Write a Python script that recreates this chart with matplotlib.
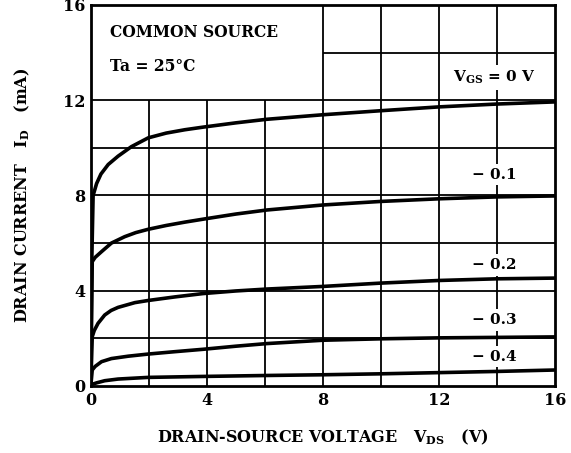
import matplotlib
matplotlib.use("Agg")
import matplotlib.pyplot as plt
import numpy as np

plt.rcParams["font.family"] = ["DejaVu Serif"]
plt.rcParams["font.weight"] = "bold"
plt.rcParams["mathtext.fontset"] = "dejavuserif"

# curves: VDS (V) vs ID (mA)
vds_0 = [0.0, 0.03, 0.08, 0.2, 0.35, 0.6, 0.94, 1.4, 1.98, 2.6, 3.24, 3.87, 5.0, 6.07, 8.0, 10.0, 12.0, 14.0, 16.0]
id_0 = [0.0, 5.0, 8.0, 8.5, 8.9, 9.3, 9.65, 10.05, 10.42, 10.62, 10.76, 10.87, 11.05, 11.2, 11.39, 11.56, 11.72, 11.84, 11.93]

vds_1 = [0.0, 0.05, 0.15, 0.37, 0.71, 1.17, 1.55, 1.98, 2.6, 3.24, 4.0, 5.0, 6.07, 8.0, 10.0, 12.0, 14.0, 16.0]
id_1 = [0.0, 5.22, 5.4, 5.64, 6.0, 6.27, 6.44, 6.58, 6.74, 6.88, 7.03, 7.22, 7.39, 7.6, 7.75, 7.86, 7.94, 7.98]

vds_2 = [0.0, 0.05, 0.12, 0.25, 0.48, 0.7, 0.94, 1.52, 1.98, 2.9, 3.87, 5.0, 6.07, 8.0, 10.0, 12.0, 14.0, 16.0]
id_2 = [0.0, 2.07, 2.33, 2.63, 2.98, 3.17, 3.3, 3.5, 3.59, 3.74, 3.88, 3.99, 4.07, 4.18, 4.32, 4.43, 4.5, 4.53]

vds_3 = [0.0, 0.05, 0.15, 0.37, 0.71, 1.29, 1.98, 2.9, 3.87, 5.0, 6.07, 8.0, 10.0, 12.0, 14.0, 16.0]
id_3 = [0.0, 0.67, 0.82, 1.02, 1.15, 1.25, 1.34, 1.44, 1.54, 1.67, 1.78, 1.92, 1.98, 2.02, 2.04, 2.06]

vds_4 = [0.0, 0.05, 0.2, 0.48, 0.94, 1.98, 3.87, 6.07, 8.0, 10.0, 12.0, 14.0, 16.0]
id_4 = [0.0, 0.07, 0.13, 0.22, 0.29, 0.36, 0.4, 0.44, 0.47, 0.51, 0.56, 0.61, 0.67]

curves = [(vds_0, id_0), (vds_1, id_1), (vds_2, id_2), (vds_3, id_3), (vds_4, id_4)]

curve_labels = [r"$\mathbf{V_{GS}}$ = 0 V", "\u2212 0.1", "\u2212 0.2", "\u2212 0.3", "\u2212 0.4"]
label_y = [12.95, 8.87, 5.08, 2.77, 1.22]
label_x = 13.9

x_ticks = [0, 4, 8, 12, 16]
y_ticks = [0, 4, 8, 12, 16]
grid_x = np.arange(0, 17, 2)
grid_y = np.arange(0, 17, 2)

fig = plt.figure(figsize=(5.71, 4.53), dpi=100)
ax = fig.add_axes([0.159, 0.148, 0.813, 0.841])
ax.set_xlim(0, 16)
ax.set_ylim(0, 16)

# grid, left out behind the condition box in the upper left
for gx in grid_x[1:-1]:
    top = 12 if gx < 8 else 16
    ax.vlines(gx, 0, top, color="black", lw=1.3, zorder=1)
for gy in grid_y[1:-1]:
    left = 8 if gy > 12 else 0
    ax.hlines(gy, left, 16, color="black", lw=1.3, zorder=1)

for v, i in curves:
    ax.plot(v, i, color="black", lw=2.6, solid_joinstyle="round",
            solid_capstyle="round", zorder=3)

for txt, ly in zip(curve_labels, label_y):
    ax.text(label_x, ly, txt, ha="center", va="center", fontsize=11,
            fontweight="bold", zorder=4,
            bbox=dict(facecolor="white", edgecolor="none", pad=2.5))

ax.text(0.66, 14.83, "COMMON SOURCE", ha="left", va="center", fontsize=11.2, fontweight="bold")
ax.text(0.66, 13.4, "Ta = 25\u00b0C", ha="left", va="center", fontsize=11.2, fontweight="bold")

ax.set_xticks(x_ticks)
ax.set_yticks(y_ticks)
ax.tick_params(length=0, labelsize=11.5, pad=4)
for lbl in ax.get_xticklabels() + ax.get_yticklabels():
    lbl.set_fontweight("bold")
for s in ax.spines.values():
    s.set_linewidth(2.0)

ax.set_xlabel(r"DRAIN-SOURCE VOLTAGE   $\mathbf{V_{DS}}$   (V)", fontsize=11.5,
              fontweight="bold", labelpad=14)
ax.set_ylabel(r"DRAIN CURRENT   $\mathbf{I_{D}}$   (mA)", fontsize=11.5,
              fontweight="bold", labelpad=22)

fig.savefig("out.png", dpi=100)
